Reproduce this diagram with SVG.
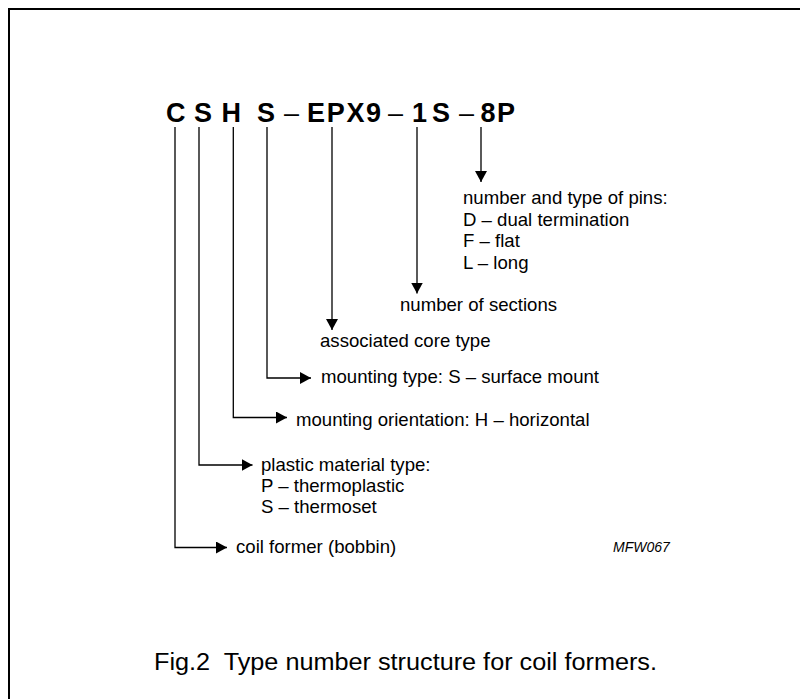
<svg xmlns="http://www.w3.org/2000/svg" width="800" height="699" viewBox="0 0 800 699">
<style>
.lbl{font-family:"Liberation Sans",Arial,sans-serif;font-size:18.6px;fill:#000}
.ttl{font-family:"Liberation Sans",Arial,sans-serif;font-size:27px;font-weight:bold;fill:#000}
.dash{font-weight:normal}
.con{fill:none;stroke:#000;stroke-width:1.3}
.cap{font-family:"Liberation Sans",Arial,sans-serif;font-size:23.5px;fill:#000}
.code{font-family:"Liberation Sans",Arial,sans-serif;font-size:14px;font-style:italic;fill:#000}
</style>
<defs>
<marker id="ah" markerUnits="userSpaceOnUse" markerWidth="11" markerHeight="12" refX="11" refY="6" orient="auto" viewBox="0 0 11 12">
<path d="M0,0 L11,6 L0,12 Z" fill="#000"/>
</marker>
</defs>
<rect width="800" height="699" fill="#fff"/>
<path d="M9,699 V9 H800" fill="none" stroke="#000" stroke-width="2"/>

<g id="title">
<text class="ttl" y="122"><tspan x="166">C</tspan><tspan x="194">S</tspan><tspan x="221.5">H</tspan><tspan x="257">S</tspan><tspan class="dash" x="284">–</tspan><tspan x="307 326.7 346.4 366.1">EPX9</tspan><tspan class="dash" x="388">–</tspan><tspan x="412 432">1S</tspan><tspan class="dash" x="459">–</tspan><tspan x="480.5 497">8P</tspan></text>
</g>

<g id="connectors">
<path class="con" d="M481,127 V182" marker-end="url(#ah)"/>
<path class="con" d="M417,127 V293.5" marker-end="url(#ah)"/>
<path class="con" d="M332,127 V330" marker-end="url(#ah)"/>
<path class="con" d="M267,127 V378 H311" marker-end="url(#ah)"/>
<path class="con" d="M233.3,127 V417.5 H287" marker-end="url(#ah)"/>
<path class="con" d="M199,127 V465 H252.5" marker-end="url(#ah)"/>
<path class="con" d="M175,127 V547.5 H227" marker-end="url(#ah)"/>
</g>

<g id="pins">
<text class="lbl" x="463" y="204">number and type of pins:</text>
<text class="lbl" x="463" y="225.5">D – dual termination</text>
<text class="lbl" x="463" y="247">F – flat</text>
<text class="lbl" x="463" y="268.5">L – long</text>
</g>
<g id="sections"><text class="lbl" x="400" y="310.5">number of sections</text></g>
<g id="core"><text class="lbl" x="320" y="347">associated core type</text></g>
<g id="mounting-type"><text class="lbl" x="321" y="383.3">mounting type: S – surface mount</text></g>
<g id="mounting-orientation"><text class="lbl" x="296" y="425.7">mounting orientation: H – horizontal</text></g>
<g id="plastic">
<text class="lbl" x="261" y="471">plastic material type:</text>
<text class="lbl" x="261" y="491.7">P – thermoplastic</text>
<text class="lbl" x="261" y="513.3">S – thermoset</text>
</g>
<g id="coil-former"><text class="lbl" x="236" y="552.5">coil former (bobbin)</text></g>
<text class="code" x="613" y="552">MFW067</text>
<text class="cap" x="154" y="670" xml:space="preserve" textLength="503" lengthAdjust="spacingAndGlyphs">Fig.2  Type number structure for coil formers.</text>
</svg>
